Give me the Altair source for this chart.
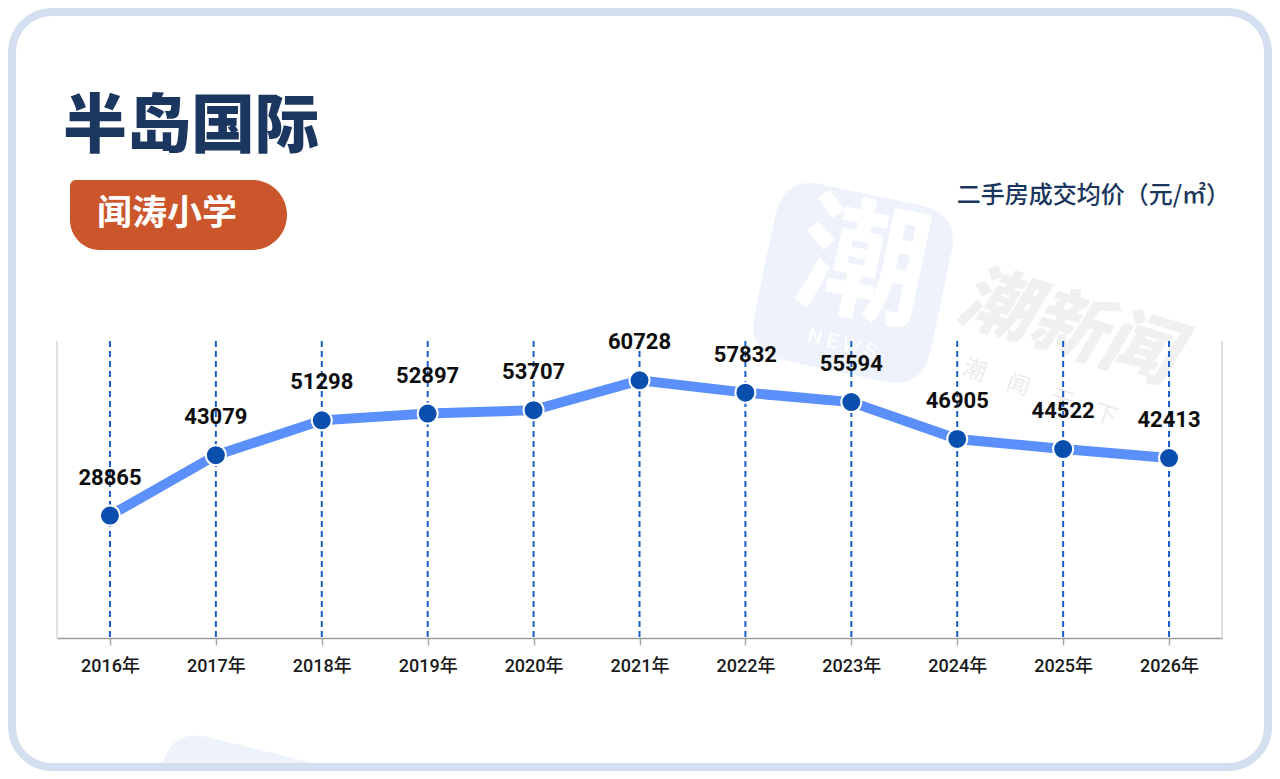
import altair as alt
import pandas as pd

# ---------------- data ----------------
years = ["2016年", "2017年", "2018年", "2019年", "2020年", "2021年",
         "2022年", "2023年", "2024年", "2025年", "2026年"]
prices = [28865, 43079, 51298, 52897, 53707, 60728, 57832, 55594, 46905, 44522, 42413]

title_text = "半岛国际"
badge_text = "闻涛小学"
unit_text = "二手房成交均价（元/㎡）"
wm_brand = "潮新闻"
wm_slogan = "潮　闻　天　下"
wm_logo_char = "潮"
wm_logo_news = "N E W S"

df = pd.DataFrame({"year": years, "price": prices})
one = pd.DataFrame({"k": [0]})

# ---------------- style ----------------
W, H = 1165, 297
CJK = "Noto Sans CJK SC"
NUM = "Roboto, 'Noto Sans CJK SC'"
ROUND_SQ = ("M -0.56 -1 L 0.56 -1 Q 1 -1 1 -0.56 L 1 0.56 Q 1 1 0.56 1 "
            "L -0.56 1 Q -1 1 -1 0.56 L -1 -0.56 Q -1 -1 -0.56 -1 Z")

x_enc = alt.X(
    "year:O", sort=years,
    scale=alt.Scale(type="point", padding=0.5),
    axis=alt.Axis(title=None, labelAngle=0, labelFont=NUM, labelFontSize=18,
                  labelColor="#1a1a1a", labelFontWeight=500, labelPadding=12,
                  tickColor="#aaaaaa", tickSize=7, tickWidth=1.5,
                  domainColor="#9a9a9a", domainWidth=1.5, grid=False),
)
y_enc = alt.Y("price:Q", scale=alt.Scale(domain=[0, 70000], nice=False), axis=None)

base1 = alt.Chart(one)

# watermark pieces
icon = base1.mark_point(shape=ROUND_SQ, filled=True, fill="#eef3fb", opacity=1,
                        strokeWidth=0, size=180 * 180, angle=12).encode(
    x=alt.value(796), y=alt.value(-58))
icon_char = base1.mark_text(text=wm_logo_char, font=CJK, fontSize=130, fontWeight=700,
                            color="#ffffff", angle=12, align="center", baseline="middle").encode(
    x=alt.value(805), y=alt.value(-72))
icon_news = base1.mark_text(text=wm_logo_news, font="Roboto", fontSize=20,
                            color="#ffffff", angle=14, align="center", baseline="middle").encode(
    x=alt.value(785), y=alt.value(3))
icon2 = base1.mark_point(shape=ROUND_SQ, filled=True, fill="#eef3fb", opacity=1,
                         strokeWidth=0, size=180 * 180, angle=14).encode(
    x=alt.value(180), y=alt.value(496))
brand = base1.mark_text(text=wm_brand, font=CJK, fontSize=74, fontWeight=900, fontStyle="italic",
                        color="#f0f0f0", angle=17, align="center", baseline="middle").encode(
    x=alt.value(1010), y=alt.value(-12))
slogan = base1.mark_text(text=wm_slogan, font=CJK, fontSize=23, fontWeight=400,
                         color="#ececec", angle=19, align="center", baseline="middle").encode(
    x=alt.value(983), y=alt.value(52))

# frame
frame = base1.mark_rect(fillOpacity=0, stroke="#d3deee", strokeWidth=8, cornerRadius=40).encode(
    x=alt.value(-45), x2=alt.value(1211), y=alt.value(-329), y2=alt.value(426))

# plot decorations
left_line = base1.mark_rule(color="#d6d6d6", strokeWidth=1.5).encode(
    x=alt.value(0), y=alt.value(0), y2=alt.value(H))
right_line = base1.mark_rule(color="#d6d6d6", strokeWidth=1.5).encode(
    x=alt.value(W), y=alt.value(0), y2=alt.value(H))

base = alt.Chart(df)
grid = base.mark_rule(color="#1a5fc8", strokeWidth=2, strokeDash=[6, 4]).encode(
    x=x_enc, y=alt.value(0), y2=alt.value(H))
line = base.mark_line(color="#5b8ff9", strokeWidth=10).encode(x=x_enc, y=y_enc)
pts = base.mark_circle(size=400, color="#0a4fae", opacity=1, stroke="white", strokeWidth=2).encode(
    x=x_enc, y=y_enc)
labels = base.mark_text(dy=-38, font="Roboto", fontSize=22, fontWeight="bold", color="#0d0d0d",
                        baseline="middle").encode(
    x=x_enc, y=y_enc, text=alt.Text("price:Q", format="d"))

# titles
title = base1.mark_text(text=title_text, font=CJK, fontSize=64, fontWeight=900, color="#1b365f",
                        align="left", baseline="middle").encode(x=alt.value(6), y=alt.value(-213))
badge = base1.mark_rect(color="#cc562b", cornerRadiusTopLeft=6, cornerRadiusBottomLeft=30,
                        cornerRadiusTopRight=35, cornerRadiusBottomRight=35).encode(
    x=alt.value(13), x2=alt.value(230), y=alt.value(-161), y2=alt.value(-91))
badge_t = base1.mark_text(text=badge_text, font=CJK, fontSize=35, fontWeight=700, color="#ffffff",
                          align="left", baseline="middle").encode(x=alt.value(40), y=alt.value(-127))
unit = base1.mark_text(text=unit_text, font=CJK, fontSize=24, fontWeight=500, color="#1b365d",
                       align="right", baseline="middle").encode(x=alt.value(1173), y=alt.value(-145))

chart = alt.layer(
    icon, icon_char, icon_news, icon2, brand, slogan, frame,
    left_line, right_line, grid, line, pts, labels,
    title, badge, badge_t, unit,
).properties(
    width=W, height=H,
    padding={"left": 49, "top": 333, "right": 50, "bottom": 133},
    autosize=alt.AutoSizeParams(type="none"),
    background="white",
).configure_view(stroke=None)

chart.save("out.html", embed_options={"renderer": "svg", "actions": False})
